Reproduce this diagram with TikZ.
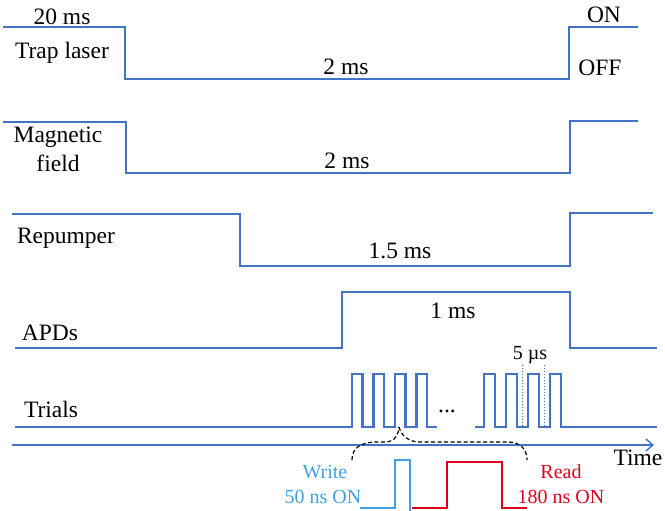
\documentclass[tikz,border=0pt]{standalone}
\usepackage{fontspec}
\setmainfont{Liberation Serif}
\usepackage{xcolor}
\usetikzlibrary{arrows.meta}

\definecolor{sigblue}{RGB}{68,114,196}
\definecolor{writeblue}{RGB}{65,160,225}
\definecolor{readred}{RGB}{222,0,30}

\begin{document}
\begin{tikzpicture}[x=1pt, y=-1pt,
        sig/.style={draw=sigblue, line width=2.8pt},
        lbl/.style={anchor=base, inner sep=0pt, font=\fontsize{23.5}{29}\selectfont},
        sml/.style={anchor=base, inner sep=0pt, font=\fontsize{20}{24}\selectfont},
        axis/.style={draw=sigblue, line width=1.4pt, -{Straight Barb[length=7pt, width=12pt]}},
        periodline/.style={draw=sigblue, line width=1pt, dotted},
        brace/.style={draw=black, line width=1.2pt, dash pattern=on 4pt off 2.5pt},
    ]
    \useasboundingbox (0,0) rectangle (665,511);

    % Trap laser
    \draw[sig] (3,27) -- (125,27) -- (125,79) -- (569,79) -- (569,27) -- (638,27);
    \node[lbl] (trap_on) at (62,25) {20 ms};
    \node[lbl] (trap) at (62,59) {Trap laser};
    \node[lbl] (trap_off) at (346,75) {2 ms};
    \node[lbl] (on) at (604,23) {ON};
    \node[lbl] (off) at (600,76) {OFF};

    % Magnetic field
    \draw[sig] (3,122) -- (126,122) -- (126,173) -- (570,173) -- (570,121) -- (638,121);
    \node[lbl, anchor=center, align=center] (mag) at (58,149.5) {Magnetic\\field};
    \node[lbl] (mag_off) at (347,168) {2 ms};

    % Repumper
    \draw[sig] (12,214) -- (240,214) -- (240,266) -- (570,266) -- (570,213) -- (653,213);
    \node[lbl] (rep) at (66,243) {Repumper};
    \node[lbl] (rep_off) at (400,258) {1.5 ms};

    % APDs
    \draw[sig] (15,348) -- (342,348) -- (342,292) -- (570,292) -- (570,348) -- (657,348);
    \node[lbl] (apd) at (50,340) {APDs};
    \node[lbl] (apd_on) at (453,318) {1 ms};

    % Trials
    \draw[sig] (15,427) \foreach \i in {0,...,3} {
        -- ({352+21.5*\i},427) -- ({352+21.5*\i},374) -- ({362.5+21.5*\i},374) -- ({362.5+21.5*\i},427)
    } -- (437,427);
    \draw[sig] (475,427) \foreach \i in {0,...,3} {
        -- ({484+22*\i},427) -- ({484+22*\i},374) -- ({495+22*\i},374) -- ({495+22*\i},427)
    } -- (657,427);
    \node[lbl] (trials) at (51,417) {Trials};
    \node[lbl] (dots) at (447,412) {...};

    % Period marks
    \coordinate (p1top) at (522.5,365);
    \coordinate (p1bot) at (522.5,427);
    \coordinate (p2top) at (544.5,365);
    \coordinate (p2bot) at (544.5,427);
    \draw[periodline] (p1top) -- (p1bot);
    \draw[periodline] (p2top) -- (p2bot);
    \node[sml] (period) at (530,359) {5 µs};

    % Time axis
    \coordinate (t0) at (12,445);
    \coordinate (t1) at (654,445);
    \draw[axis] (t0) -- (t1);
    \node[lbl] (time) at (638,465) {Time};

    % Zoom brace
    \coordinate (bl) at (352,460);
    \coordinate (bm) at (399,427);
    \coordinate (br) at (527,460);
    \draw[brace] (bl) .. controls (352,448) and (360,442) .. (378,442) -- (387,442)
        .. controls (394,442) and (399,434) .. (bm);
    \draw[brace] (bm) .. controls (401,435) and (408,442) .. (420,442) -- (508,442)
        .. controls (520,442) and (527,449) .. (br);

    % Write and read pulses
    \draw[draw=writeblue, line width=2.8pt] (360,508) -- (395,508) -- (395,460) -- (410,460) -- (410,512);
    \draw[draw=readred, line width=2.8pt] (412,508) -- (447,508) -- (447,462) -- (502,462) -- (502,508) -- (527,508);
    \node[sml, text=writeblue] (write) at (325,478) {Write};
    \node[sml, text=writeblue] (write_t) at (323,503) {50 ns ON};
    \node[sml, text=readred] (read) at (561,478) {Read};
    \node[sml, text=readred] (read_t) at (561,503) {180 ns ON};
\end{tikzpicture}
\end{document}
